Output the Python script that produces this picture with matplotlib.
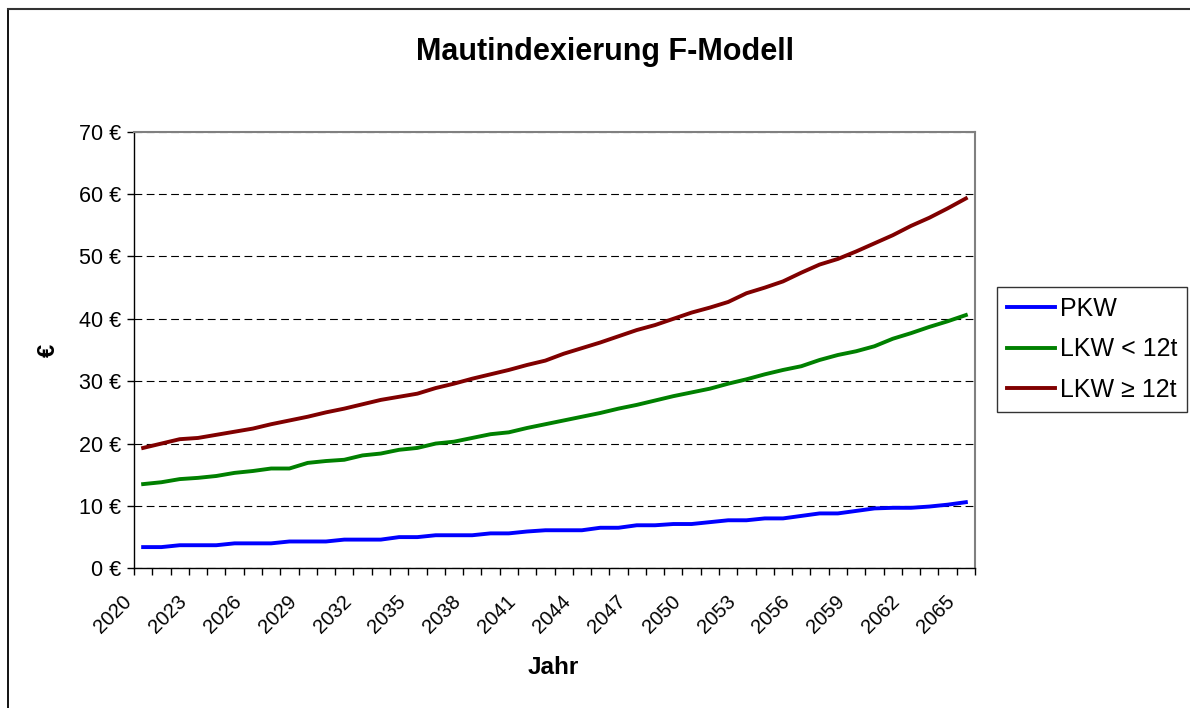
import numpy as np
import matplotlib
matplotlib.use('Agg')
import matplotlib.pyplot as plt
from matplotlib.lines import Line2D
from matplotlib.transforms import ScaledTranslation

plt.rcParams['font.family'] = ['Liberation Sans', 'DejaVu Sans']

# data (EUR per year)
years = list(range(2020, 2066))
pkw = [3.4, 3.4, 3.7, 3.7, 3.7, 4.0, 4.0, 4.0, 4.3, 4.3,
       4.3, 4.6, 4.6, 4.6, 5.0, 5.0, 5.3, 5.3, 5.3, 5.6,
       5.6, 5.9, 6.1, 6.1, 6.1, 6.5, 6.5, 6.9, 6.9, 7.1,
       7.1, 7.4, 7.7, 7.7, 8.0, 8.0, 8.4, 8.8, 8.8, 9.2,
       9.6, 9.7, 9.7, 9.9, 10.2, 10.6]
lkw_klein = [13.5, 13.8, 14.3, 14.5, 14.8, 15.3, 15.6, 16.0, 16.0, 16.9,
             17.2, 17.4, 18.1, 18.4, 19.0, 19.3, 20.0, 20.3, 20.9, 21.5,
             21.8, 22.5, 23.1, 23.7, 24.3, 24.9, 25.6, 26.2, 26.9, 27.6,
             28.2, 28.8, 29.6, 30.3, 31.1, 31.8, 32.4, 33.4, 34.2, 34.8,
             35.6, 36.8, 37.7, 38.7, 39.6, 40.6]
lkw_gross = [19.3, 20.0, 20.7, 20.9, 21.4, 21.9, 22.4, 23.1, 23.7, 24.3,
             25.0, 25.6, 26.3, 27.0, 27.5, 28.0, 28.9, 29.6, 30.4, 31.1,
             31.8, 32.6, 33.3, 34.4, 35.3, 36.2, 37.2, 38.2, 39.0, 40.0,
             41.0, 41.8, 42.7, 44.1, 45.0, 46.0, 47.4, 48.7, 49.6, 50.8,
             52.1, 53.4, 54.9, 56.2, 57.7, 59.3]
labels = ['PKW', 'LKW < 12t', 'LKW \u2265 12t']
colors = ['#0000ff', '#008000', '#800000']

fig = plt.figure(figsize=(11.9, 7.08), dpi=100)
ax = fig.add_axes([134/1190, 1-568.3/708, 841/1190, 436.6/708])

x = np.arange(len(years))
for ser, lab, col in zip([pkw, lkw_klein, lkw_gross], labels, colors):
    ax.plot(x, ser, color=col, lw=2.8, label=lab, solid_joinstyle='round')

ax.set_xlim(-0.5, len(years)-0.5)
ax.set_ylim(0, 70)
ax.set_yticks(np.arange(0, 71, 10))
ax.set_yticklabels(['%d \u20ac' % v for v in range(0, 71, 10)], fontsize=15.5)
ax.yaxis.grid(True, color='black', lw=0.8, linestyle=(0, (7, 4)))
ax.set_axisbelow(True)

# tick marks between categories, labels every 3rd year
ax.set_xticks(np.arange(-0.5, len(years), 1))
ax.set_xticklabels([])
ax.set_xticks(x[::3], minor=True)
ax.set_xticklabels([str(y) for y in years[::3]], minor=True, rotation=45,
                   ha='right', va='top', rotation_mode='anchor', fontsize=14.5)
ax.tick_params(axis='x', which='major', length=5, width=1, direction='out')
ax.tick_params(axis='x', which='minor', length=0, pad=17)
ax.tick_params(axis='y', length=5, width=1, pad=4)
off = ScaledTranslation(-21/100, 0, fig.dpi_scale_trans)
for t in ax.get_xticklabels(minor=True):
    t.set_transform(t.get_transform() + off)

for s in ['top', 'right']:
    ax.spines[s].set_color('#808080')
    ax.spines[s].set_linewidth(1.5)
for s in ['left', 'bottom']:
    ax.spines[s].set_color('black')
    ax.spines[s].set_linewidth(1)

ax.set_xlabel('Jahr', fontsize=17.5, fontweight='bold')
ax.xaxis.set_label_coords(0.498, -0.228)
ax.xaxis.label.set_va('center')
ax.set_ylabel('\u20ac', fontsize=17, fontweight='bold')
ax.yaxis.set_label_coords(-0.102, 0.5)
ax.yaxis.label.set_va('center')

fig.text(605/1190, 1-52/708, 'Mautindexierung F-Modell', ha='center', va='center',
         fontsize=22, fontweight='bold')

leg = ax.legend(loc='upper left', bbox_to_anchor=(997/1190, 1-287/708),
                bbox_transform=fig.transFigure, borderaxespad=0, fontsize=18,
                frameon=True, fancybox=False, edgecolor='black', handlelength=1.9,
                handletextpad=0.2, labelspacing=0.66, borderpad=0.4)
leg.get_frame().set_linewidth(1)

# outer chart frame
fig.add_artist(Line2D([8/1190, 8/1190], [0, 1-9/708], color='black', lw=1.3,
                      transform=fig.transFigure))
fig.add_artist(Line2D([8/1190, 1], [1-9/708, 1-9/708], color='#333333', lw=1.5,
                      transform=fig.transFigure))

fig.savefig('out.png', dpi=100)
